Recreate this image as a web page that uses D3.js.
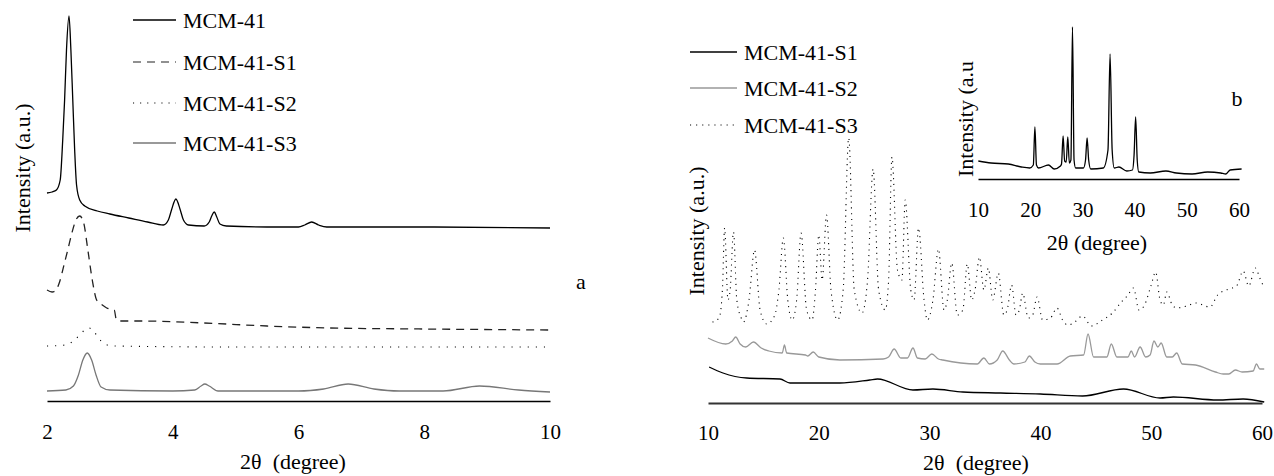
<!DOCTYPE html>
<html lang="en">
<head>
	<meta charset="utf-8">
	<title>XRD patterns MCM-41</title>
	<script src="https://d3js.org/d3.v7.min.js" charset="utf-8"></script>
	<style>
		body { margin: 0; background: #fff; }
		svg text {
			font-family: "Liberation Serif", Tinos, "Times New Roman", Times, "DejaVu Serif", serif;
			fill: #000;
		}
	</style>
</head>
<body>
	<div id="chart"></div>
<script>
	// ---- panel a (low angle), intensity in a.u. with vertical offsets ----
	var aTheta_MCM41 = [2.0, 2.08, 2.15, 2.21, 2.25, 2.28, 2.31, 2.35, 2.38, 2.41, 2.44, 2.47, 2.52, 2.6, 2.8, 3.0, 3.3, 3.6, 3.85, 3.93, 3.98, 4.05, 4.12, 4.17, 4.25, 4.5, 4.58, 4.62, 4.66, 4.7, 4.75, 4.85, 5.5, 6.0, 6.1, 6.21, 6.32, 6.45, 8.0, 10.0];
	var aInt_MCM41 = [208, 209, 211, 221, 261, 301, 351, 385, 351, 301, 251, 216, 201, 195, 190, 187, 183, 179, 176, 181, 191, 202, 191, 181, 176, 175, 179, 185, 189, 184, 177, 175, 174, 174, 176, 179, 176, 174, 174, 173];

	var aTheta_S1 = [2.0, 2.08, 2.13, 2.2, 2.27, 2.33, 2.4, 2.46, 2.52, 2.58, 2.65, 2.72, 2.79, 2.88, 2.95, 3.07, 3.1, 3.15, 3.5, 4.5, 5.5, 6.5, 8.0, 10.0];
	var aInt_S1 = [111, 109, 110, 119, 136, 151, 169, 181, 185, 179, 151, 121, 101, 96, 93, 91, 82, 80, 80, 78, 75, 73, 72, 71];

	var aTheta_S2 = [2.0, 2.3, 2.42, 2.52, 2.6, 2.67, 2.74, 2.82, 2.92, 3.05, 5.0, 10.0];
	var aInt_S2 = [55, 56, 60, 66, 71, 73, 70, 63, 57, 55, 54, 54];

	var aTheta_S3 = [2.0, 2.3, 2.42, 2.5, 2.57, 2.64, 2.71, 2.78, 2.86, 3.0, 4.0, 4.35, 4.45, 4.51, 4.58, 4.72, 6.0, 6.4, 6.79, 7.2, 7.6, 8.3, 8.88, 9.5, 10.0];
	var aInt_S3 = [10, 11, 15, 26, 41, 48, 41, 26, 14, 11, 10, 11, 15, 17, 15, 10, 10, 12, 17, 12, 10, 10, 15, 11, 9];

	var aTicks = [2, 4, 6, 8, 10];

	// ---- panel b (wide angle) ----
	var bTheta_S1 = [10.1, 11.35, 13.5, 16.5, 17.4, 21.9, 24.6, 25.3, 28.5, 30.3, 33, 36.4, 40, 43.8, 47.5, 50.8, 52, 56, 58.3, 60.2];
	var bInt_S1 = [36, 30, 25, 24, 20, 20, 23, 24, 13, 14, 11, 10, 9, 7, 14, 5, 6, 3, 4, 1];

	var bTheta_S2 = [10.0, 11.6, 12.2, 12.5, 12.9, 13.4, 14.1, 14.8, 15.5, 16.7, 16.9, 17.1, 18.8, 19.0, 19.5, 20.0, 21.9, 25.8, 26.3, 26.8, 27.4, 28.0, 28.5, 28.9, 29.6, 30.2, 30.8, 31.2, 34.3, 34.9, 35.4, 36.1, 36.6, 37.2, 37.6, 38.6, 39.0, 39.5, 40.0, 41.5, 42.7, 43.9, 44.3, 44.8, 46.0, 46.4, 46.9, 47.9, 48.2, 48.5, 49.0, 49.5, 49.9, 50.25, 50.6, 50.9, 51.4, 51.9, 52.3, 52.8, 54.0, 55.8, 56.5, 57.0, 57.6, 58.2, 59.2, 59.5, 59.8, 60.2];
	var bInt_S2 = [65, 59, 62, 66, 59, 56, 61, 55, 52, 50, 58, 50, 48, 47, 51, 46, 43, 44, 46, 54, 45, 45, 55, 45, 44, 49, 44, 43, 39, 45, 39, 43, 52, 43, 39, 41, 47, 41, 39, 39, 47, 48, 69, 46, 46, 59, 46, 46, 52, 46, 56, 46, 48, 62, 56, 60, 46, 46, 50, 39, 38, 31, 29, 29, 33, 31, 32, 39, 34, 34];

	var bTheta_S3 = [10.4, 11.0, 11.3, 11.5, 11.8, 12.0, 12.3, 12.6, 13.0, 13.2, 13.7, 14.2, 14.7, 15.3, 16.0, 16.4, 16.8, 17.2, 17.6, 18.0, 18.4, 18.9, 19.4, 19.7, 20.0, 20.3, 20.7, 21.1, 21.7, 22.2, 22.7, 23.2, 23.9, 24.4, 24.9, 25.4, 26.0, 26.3, 26.6, 27.1, 27.5, 27.8, 28.3, 28.6, 29.0, 29.5, 29.8, 30.3, 30.8, 31.3, 31.6, 32.0, 32.5, 33.0, 33.4, 33.8, 34.1, 34.5, 34.9, 35.3, 35.7, 36.2, 36.7, 37.0, 37.4, 37.8, 38.1, 38.4, 38.9, 39.3, 39.7, 40.2, 40.9, 41.5, 42.0, 42.5, 43.1, 43.8, 44.6, 45.6, 46.5, 47.3, 47.9, 48.4, 48.9, 49.4, 50.0, 50.4, 50.8, 51.1, 51.4, 51.9, 52.3, 53.2, 54.0, 55.3, 56.0, 57.0, 57.7, 58.3, 58.8, 59.4, 59.8, 60.2];
	var bInt_S3 = [81, 85, 113, 175, 103, 113, 171, 103, 85, 81, 103, 153, 93, 79, 87, 113, 165, 103, 83, 103, 170, 93, 83, 113, 168, 123, 188, 113, 83, 113, 265, 113, 90, 123, 234, 113, 93, 123, 246, 133, 123, 203, 113, 103, 175, 103, 83, 103, 154, 93, 103, 140, 88, 93, 139, 103, 113, 146, 113, 135, 103, 130, 88, 93, 118, 88, 93, 110, 85, 88, 106, 83, 85, 95, 83, 78, 81, 87, 77, 83, 90, 101, 108, 115, 93, 98, 118, 131, 103, 98, 111, 98, 95, 97, 100, 96, 108, 114, 117, 132, 117, 135, 125, 115];

	var bTicks = [10, 20, 30, 40, 50, 60];

	// ---- inset (MCM-41 wide angle) ----
	var cTheta = [10.06, 12.5, 15.8, 18.3, 19.9, 20.6, 20.9, 21.2, 21.6, 23.5, 24.6, 25.8, 26.0, 26.3, 26.6, 26.9, 27.2, 27.5, 27.8, 28.1, 28.4, 28.7, 30.2, 30.6, 30.9, 31.2, 31.6, 34.0, 34.9, 35.3, 35.7, 36.1, 37.0, 38.5, 39.6, 39.9, 40.2, 40.5, 40.8, 43.0, 46.0, 48.0, 51.0, 54.0, 56.5, 57.5, 58.3, 60.5];
	var cInt = [18, 16, 15, 12, 11, 14, 52, 14, 11, 14, 10, 13, 15, 43, 18, 17, 42, 16, 19, 152, 19, 11, 11, 19, 41, 19, 10, 11, 29, 125, 29, 11, 12, 8, 9, 24, 62, 19, 7, 6, 8, 6, 5, 7, 6, 5, 9, 10];

	var cTicks = [10, 20, 30, 40, 50, 60];

	var w = 1274, h = 476;
	var serif = "'Liberation Serif', Tinos, 'Times New Roman', Times, 'DejaVu Serif', serif";

	var svg = d3.select("#chart")
		.append("svg")
		.attr("width", w)
		.attr("height", h)
		.attr("font-family", serif);

	function zip(xs, ys) {
		return xs.map(function(x, i) { return [x, ys[i]]; });
	}

	function drawCurve(xScale, yScale, xs, ys, color, dash, sw) {
		var line = d3.line()
			.x(function(d) { return xScale(d[0]); })
			.y(function(d) { return yScale(d[1]); })
			.curve(d3.curveMonotoneX);
		svg.append("path")
			.datum(zip(xs, ys))
			.attr("d", line)
			.attr("fill", "none")
			.attr("stroke", color)
			.attr("stroke-width", sw || 1.3)
			.attr("stroke-dasharray", dash || null);
	}

	function drawAxis(xScale, yPos, ticks, pad, color, width) {
		var g = svg.append("g")
			.attr("transform", "translate(0," + yPos + ")")
			.call(d3.axisBottom(xScale).tickValues(ticks).tickSize(0).tickPadding(pad).tickFormat(d3.format("d")));
		g.attr("font-family", serif).attr("font-size", 21);
		g.select(".domain").attr("stroke", color).attr("stroke-width", width);
		g.selectAll("text").style("font-family", serif).style("font-size", "21px").attr("fill", "#000");
	}

	function addText(x, y, label, size, anchor, rotate) {
		var t = svg.append("text")
			.attr("text-anchor", anchor || "middle")
			.style("font-family", serif)
			.style("font-size", size + "px")
			.style("white-space", "pre")
			.text(label);
		if (rotate) {
			t.attr("transform", "translate(" + x + "," + y + ") rotate(-90)").attr("dy", "0.35em");
		} else {
			t.attr("x", x).attr("y", y);
		}
		return t;
	}

	function legend(x1, x2, y, label, color, dash) {
		svg.append("line")
			.attr("x1", x1).attr("x2", x2).attr("y1", y).attr("y2", y)
			.attr("stroke", color).attr("stroke-width", dash ? 1.1 : 1.3)
			.attr("stroke-dasharray", dash || null);
		addText(x2 + 7, y + 7.5, label, 22, "start");
	}

	// ---------------- panel a ----------------
	var xA = d3.scaleLinear().domain([2, 10]).range([47, 550]);
	var yA = d3.scaleLinear().domain([0, 400]).range([401, 1]);

	drawCurve(xA, yA, aTheta_MCM41, aInt_MCM41, "#000");
	drawCurve(xA, yA, aTheta_S1, aInt_S1, "#222", "8,6");
	drawCurve(xA, yA, aTheta_S2, aInt_S2, "#000", "1.1,7", 1.1);
	drawCurve(xA, yA, aTheta_S3, aInt_S3, "#777");
	drawAxis(xA, 401, aTicks, 23, "#000", 1.5);

	legend(133, 176, 20, "MCM-41", "#000");
	legend(133, 176, 62, "MCM-41-S1", "#222", "8,6");
	legend(133, 176, 103, "MCM-41-S2", "#000", "1.1,6");
	legend(133, 176, 143, "MCM-41-S3", "#777");

	addText(22, 168, "Intensity (a.u.)", 22, "middle", true);
	addText(293, 469, "2\u03b8  (degree)", 22, "middle");
	addText(581, 289, "a", 22, "middle");

	// ---------------- panel b ----------------
	var xB = d3.scaleLinear().domain([10, 60]).range([708, 1262]);
	var yB = d3.scaleLinear().domain([0, 400]).range([403, 3]);

	drawCurve(xB, yB, bTheta_S3, bInt_S3, "#000", "1.1,4.6", 1.1);
	drawCurve(xB, yB, bTheta_S2, bInt_S2, "#999");
	drawCurve(xB, yB, bTheta_S1, bInt_S1, "#000");
	drawAxis(xB, 403, bTicks, 22, "#333", 2);

	legend(690, 737, 52, "MCM-41-S1", "#000");
	legend(690, 737, 88, "MCM-41-S2", "#999");
	legend(690, 737, 125, "MCM-41-S3", "#000", "1.1,5");

	addText(696, 231, "Intensity (a.u.)", 22, "middle", true);
	addText(976, 470, "2\u03b8  (degree)", 22, "middle");

	// ---------------- inset ----------------
	var xC = d3.scaleLinear().domain([10, 60]).range([978, 1239]);
	var yC = d3.scaleLinear().domain([0, 170]).range([179, 9]);

	drawCurve(xC, yC, cTheta, cInt, "#000");
	drawAxis(xC, 179, cTicks, 23, "#000", 1.5);

	addText(965, 119, "Intensity (a.u", 22, "middle", true);
	addText(1097, 250, "2\u03b8 (degree)", 22, "middle");
	addText(1237, 106, "b", 22, "middle");
</script>
</body>
</html>
